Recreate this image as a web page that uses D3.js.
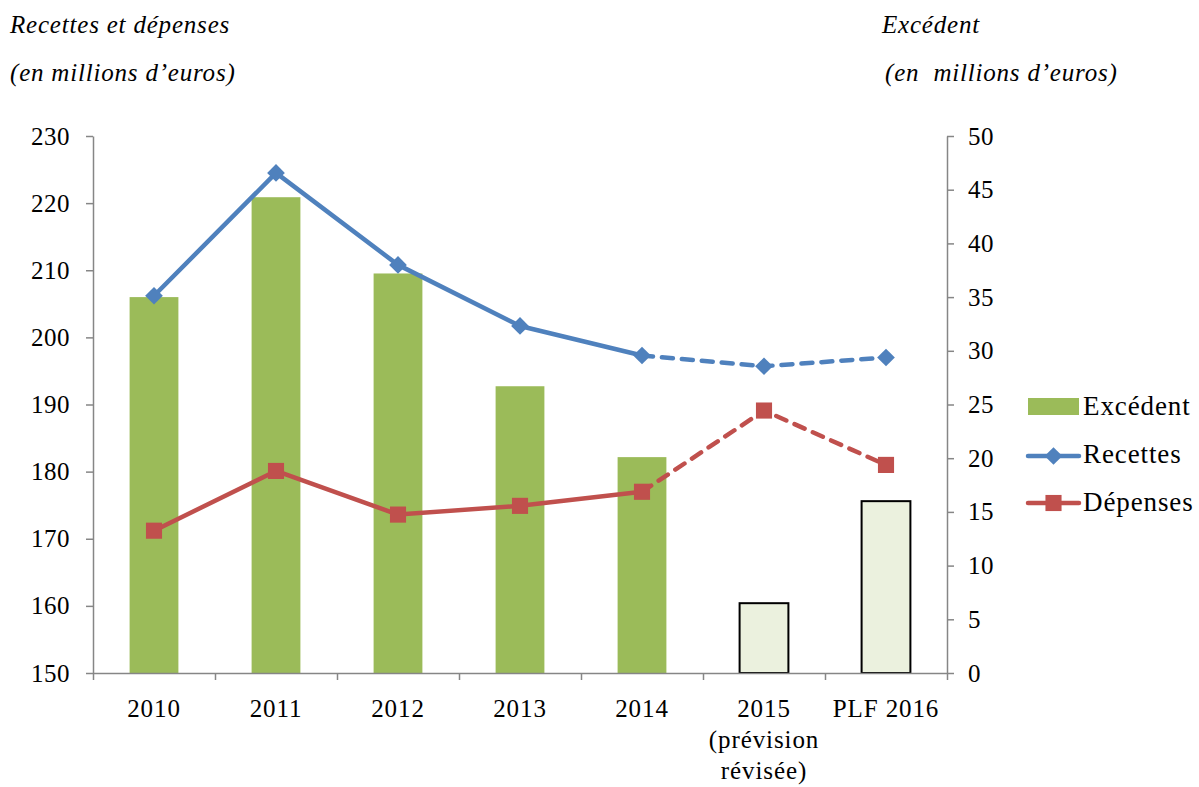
<!DOCTYPE html>
<html>
<head>
<meta charset="utf-8">
<script src="https://cdn.jsdelivr.net/npm/d3@7"></script>
<style>
	body { margin: 0; background: #fff; }
	svg text { font-family: "Liberation Serif", serif !important; fill: #000; }
	.axis path, .axis line { stroke: #868686; stroke-width: 1.5; }
</style>
</head>
<body>
<script>
// Recettes, dépenses et excédent
const width = 1199;
const height = 787;
const margin = {top: 136, right: 252, bottom: 114, left: 93};
const serif = '"Liberation Serif", serif';

const categories = ['2010', '2011', '2012', '2013', '2014', '2015', 'PLF 2016'];
const categoryLines = [['2010'], ['2011'], ['2012'], ['2013'], ['2014'], ['2015', '(prévision', 'révisée)'], ['PLF 2016']];
const forecast = [false, false, false, false, false, true, true];

const recettes = [206.2, 224.5, 210.8, 201.7, 197.3, 195.7, 197.0];
const depenses = [171.2, 180.1, 173.6, 174.9, 177.0, 189.1, 181.0];
const excedent = [35.0, 44.3, 37.2, 26.7, 20.1, 6.5, 16.0];

const leftTicks = [150, 160, 170, 180, 190, 200, 210, 220, 230];
const rightTicks = [0, 5, 10, 15, 20, 25, 30, 35, 40, 45, 50];

const blue = '#4F81BD';
const red = '#C0504D';
const green = '#9BBB59';

const svg = d3.select('body')
	.append('svg')
	.attr('width', width)
	.attr('height', height);

let x = d3.scaleBand()
	.domain(categories)
	.range([margin.left, width - margin.right])
	.paddingInner(0.6)
	.paddingOuter(0.3);

let xEdge = d3.scaleLinear()
	.domain([0, categories.length])
	.range([margin.left, width - margin.right]);

let yLeft = d3.scaleLinear()
	.domain([150, 230])
	.range([height - margin.bottom, margin.top]);

let yRight = d3.scaleLinear()
	.domain([0, 50])
	.range([height - margin.bottom, margin.top]);

const cx = c => x(c) + x.bandwidth() / 2;

// Bars (right axis)
svg.append('g')
	.selectAll('rect')
	.data(categories)
	.join('rect')
	.attr('x', c => x(c))
	.attr('width', x.bandwidth())
	.attr('y', (c, i) => yRight(excedent[i]))
	.attr('height', (c, i) => yRight(0) - yRight(excedent[i]))
	.attr('fill', (c, i) => forecast[i] ? '#EBF1DE' : green)
	.attr('stroke', (c, i) => forecast[i] ? '#000' : 'none')
	.attr('stroke-width', 2);

// Axes
svg.append('g')
	.attr('class', 'axis')
	.attr('transform', `translate(${margin.left}, 0)`)
	.call(d3.axisLeft(yLeft).tickValues(leftTicks).tickSize(7).tickSizeOuter(0).tickPadding(16))
	.attr('font-family', serif)
	.attr('font-size', 25)
	.call(g => g.selectAll('text').attr('fill', '#000').attr('letter-spacing', 0.5));

svg.append('g')
	.attr('class', 'axis')
	.attr('transform', `translate(${width - margin.right}, 0)`)
	.call(d3.axisRight(yRight).tickValues(rightTicks).tickSize(7).tickSizeOuter(0).tickPadding(14))
	.attr('font-family', serif)
	.attr('font-size', 25)
	.call(g => g.selectAll('text').attr('fill', '#000').attr('letter-spacing', 0.5));

svg.append('g')
	.attr('class', 'axis')
	.attr('transform', `translate(0, ${height - margin.bottom})`)
	.call(d3.axisBottom(xEdge).tickValues(d3.range(categories.length + 1)).tickSize(7).tickSizeOuter(0).tickFormat(''));

// Category labels
svg.append('g')
	.selectAll('text')
	.data(categories)
	.join('text')
	.attr('text-anchor', 'middle')
	.attr('font-size', 25)
	.attr('letter-spacing', 0.9)
	.attr('x', c => cx(c))
	.attr('y', height - margin.bottom + 44)
	.selectAll('tspan')
	.data((c, i) => categoryLines[i])
	.join('tspan')
	.attr('x', function() { return this.parentNode.getAttribute('x'); })
	.attr('dy', (d, j) => j === 0 ? 0 : 31)
	.text(d => d);

// Lines
function drawSeries(values, color) {
	let line = d3.line()
		.x((d, i) => cx(categories[i]))
		.y(d => yLeft(d));

	let solid = values.map((v, i) => forecast[i] ? NaN : v);
	let last = forecast.indexOf(true) - 1;
	let dashed = values.map((v, i) => i >= last ? v : NaN);

	svg.append('path')
		.attr('d', line.defined(d => !isNaN(d))(solid))
		.attr('fill', 'none')
		.attr('stroke', color)
		.attr('stroke-width', 4.5)
		.attr('stroke-linejoin', 'round');

	svg.append('path')
		.attr('d', line.defined(d => !isNaN(d))(dashed))
		.attr('fill', 'none')
		.attr('stroke', color)
		.attr('stroke-width', 4.5)
		.attr('stroke-dasharray', '11,9')
		.attr('stroke-linecap', 'round');
}

drawSeries(recettes, blue);
drawSeries(depenses, red);

const diamond = d3.symbol().type(d3.symbolDiamond2).size(200);
const square = d3.symbol().type(d3.symbolSquare).size(260);

svg.append('g')
	.selectAll('path')
	.data(recettes)
	.join('path')
	.attr('transform', (d, i) => `translate(${cx(categories[i])}, ${yLeft(d)})`)
	.attr('d', diamond)
	.attr('fill', blue);

svg.append('g')
	.selectAll('path')
	.data(depenses)
	.join('path')
	.attr('transform', (d, i) => `translate(${cx(categories[i])}, ${yLeft(d)})`)
	.attr('d', square)
	.attr('fill', red);

// Axis titles
const titles = svg.append('g')
	.attr('font-style', 'italic')
	.attr('font-size', 25)
	.attr('letter-spacing', 0.8);
titles.append('text').attr('x', 10).attr('y', 33).text('Recettes et dépenses');
titles.append('text').attr('x', 10).attr('y', 81).text('(en millions d’euros)');
titles.append('text').attr('x', 882).attr('y', 33).text('Excédent');
titles.append('text').attr('x', 885).attr('y', 81).text('(en  millions d’euros)').style('white-space', 'pre');

// Legend
const legend = svg.append('g')
	.attr('transform', 'translate(1027, 0)')
	.attr('font-size', 27)
	.attr('letter-spacing', 0.9);
legend.append('rect')
	.attr('x', 1).attr('y', 398).attr('width', 51).attr('height', 17)
	.attr('fill', green);
legend.append('text').attr('x', 56).attr('y', 415).text('Excédent');

legend.append('line')
	.attr('x1', 1).attr('x2', 52).attr('y1', 456).attr('y2', 456)
	.attr('stroke', blue).attr('stroke-width', 4.5).attr('stroke-linecap', 'round');
legend.append('path')
	.attr('transform', 'translate(26.5, 456)')
	.attr('d', diamond)
	.attr('fill', blue);
legend.append('text').attr('x', 56).attr('y', 463).text('Recettes');

legend.append('line')
	.attr('x1', 1).attr('x2', 52).attr('y1', 503).attr('y2', 503)
	.attr('stroke', red).attr('stroke-width', 4.5).attr('stroke-linecap', 'round');
legend.append('path')
	.attr('transform', 'translate(26.5, 503)')
	.attr('d', square)
	.attr('fill', red);
legend.append('text').attr('x', 56).attr('y', 511).text('Dépenses');
</script>
</body>
</html>
